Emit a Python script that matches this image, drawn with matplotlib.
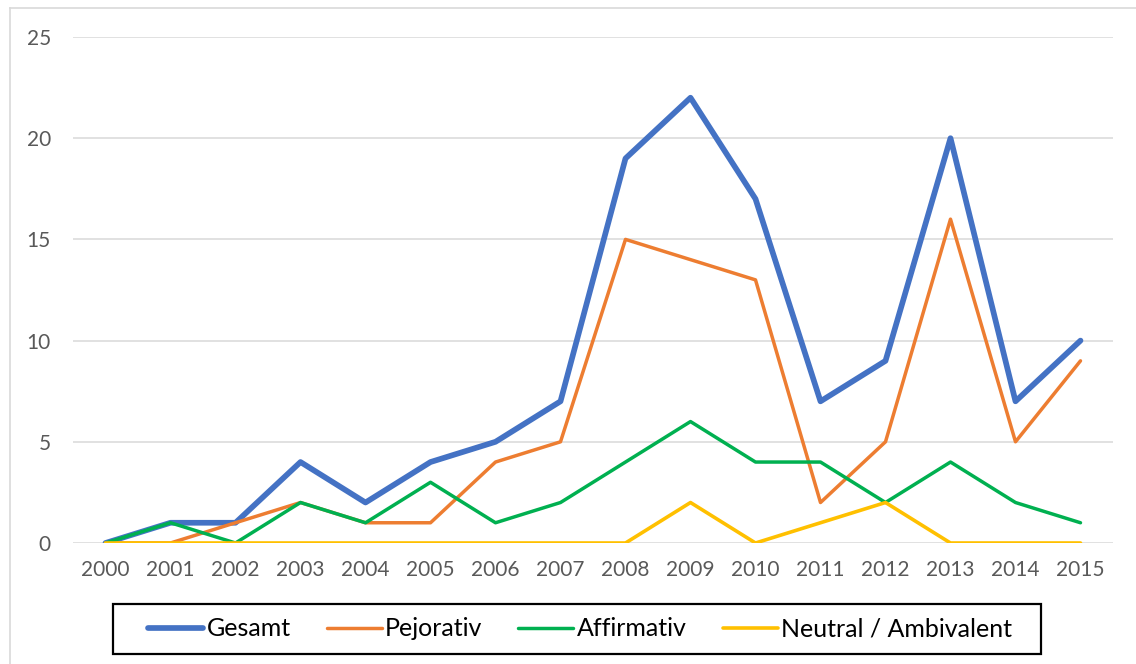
import matplotlib
matplotlib.use("Agg")
import matplotlib.pyplot as plt
from matplotlib.lines import Line2D
from matplotlib.patches import Rectangle

plt.rcParams['font.family'] = ['Lato', 'DejaVu Sans']

years = ["2000", "2001", "2002", "2003", "2004", "2005", "2006", "2007",
         "2008", "2009", "2010", "2011", "2012", "2013", "2014", "2015"]
gesamt = [0, 1, 1, 4, 2, 4, 5, 7, 19, 22, 17, 7, 9, 20, 7, 10]
pejorativ = [0, 0, 1, 2, 1, 1, 4, 5, 15, 14, 13, 2, 5, 16, 5, 9]
affirmativ = [0, 1, 0, 2, 1, 3, 1, 2, 4, 6, 4, 4, 2, 4, 2, 1]
neutral = [0, 0, 0, 0, 0, 0, 0, 0, 0, 2, 0, 1, 2, 0, 0, 0]

series = [
    ("Gesamt", gesamt, "#4472C4", 4.1),
    ("Pejorativ", pejorativ, "#ED7D31", 2.5),
    ("Affirmativ", affirmativ, "#00B050", 2.5),
    ("Neutral / Ambivalent", neutral, "#FFC000", 2.6),
]

W, H = 1136, 664
fig = plt.figure(figsize=(W / 100, H / 100), dpi=100)
ax = fig.add_axes([73 / W, 1 - 543 / H, (1113 - 73) / W, (543 - 37) / H])

x = list(range(len(years)))
handles = []
for name, vals, color, lw in series:
    ln, = ax.plot(x, vals, color=color, lw=lw, solid_capstyle='round',
                  solid_joinstyle='round', label=name, zorder=3)
    handles.append(ln)

ax.set_xlim(-0.5, len(years) - 0.5)
ax.set_ylim(0, 25)
ax.set_yticks(range(0, 26, 5))
ax.set_xticks(x)
ax.set_xticklabels(years)
ax.grid(axis='y', color='#d9d9d9', lw=1.1, zorder=0)
ax.set_axisbelow(True)
for s in ax.spines.values():
    s.set_visible(False)
ax.tick_params(axis='both', length=0, labelsize=15, labelcolor='#595959')
ax.tick_params(axis='y', pad=16)
ax.tick_params(axis='x', pad=12)

# legend entries without a frame; the box is drawn separately with wider side padding
leg = fig.legend(handles=handles, loc='center',
                 bbox_to_anchor=(580 / W, 1 - 629 / H), ncol=4,
                 fontsize=18, frameon=False,
                 handlelength=2.2, handletextpad=0.12, columnspacing=1.45,
                 borderpad=0.38, borderaxespad=0)
for t in leg.get_texts():
    t.set_color('black')

fig.add_artist(Rectangle((113 / W, 1 - 654 / H), (1041 - 113) / W, 50 / H,
                         transform=fig.transFigure, fill=False,
                         edgecolor='black', lw=1.6))

# light outer border on the top and left edges
fig.add_artist(Line2D([10 / W, 1.0], [1 - 8 / H, 1 - 8 / H], color='#d9d9d9', lw=1.2,
                      transform=fig.transFigure))
fig.add_artist(Line2D([10 / W, 10 / W], [0.0, 1 - 8 / H], color='#d9d9d9', lw=1.2,
                      transform=fig.transFigure))

fig.savefig("out.png", dpi=100, facecolor='white')
